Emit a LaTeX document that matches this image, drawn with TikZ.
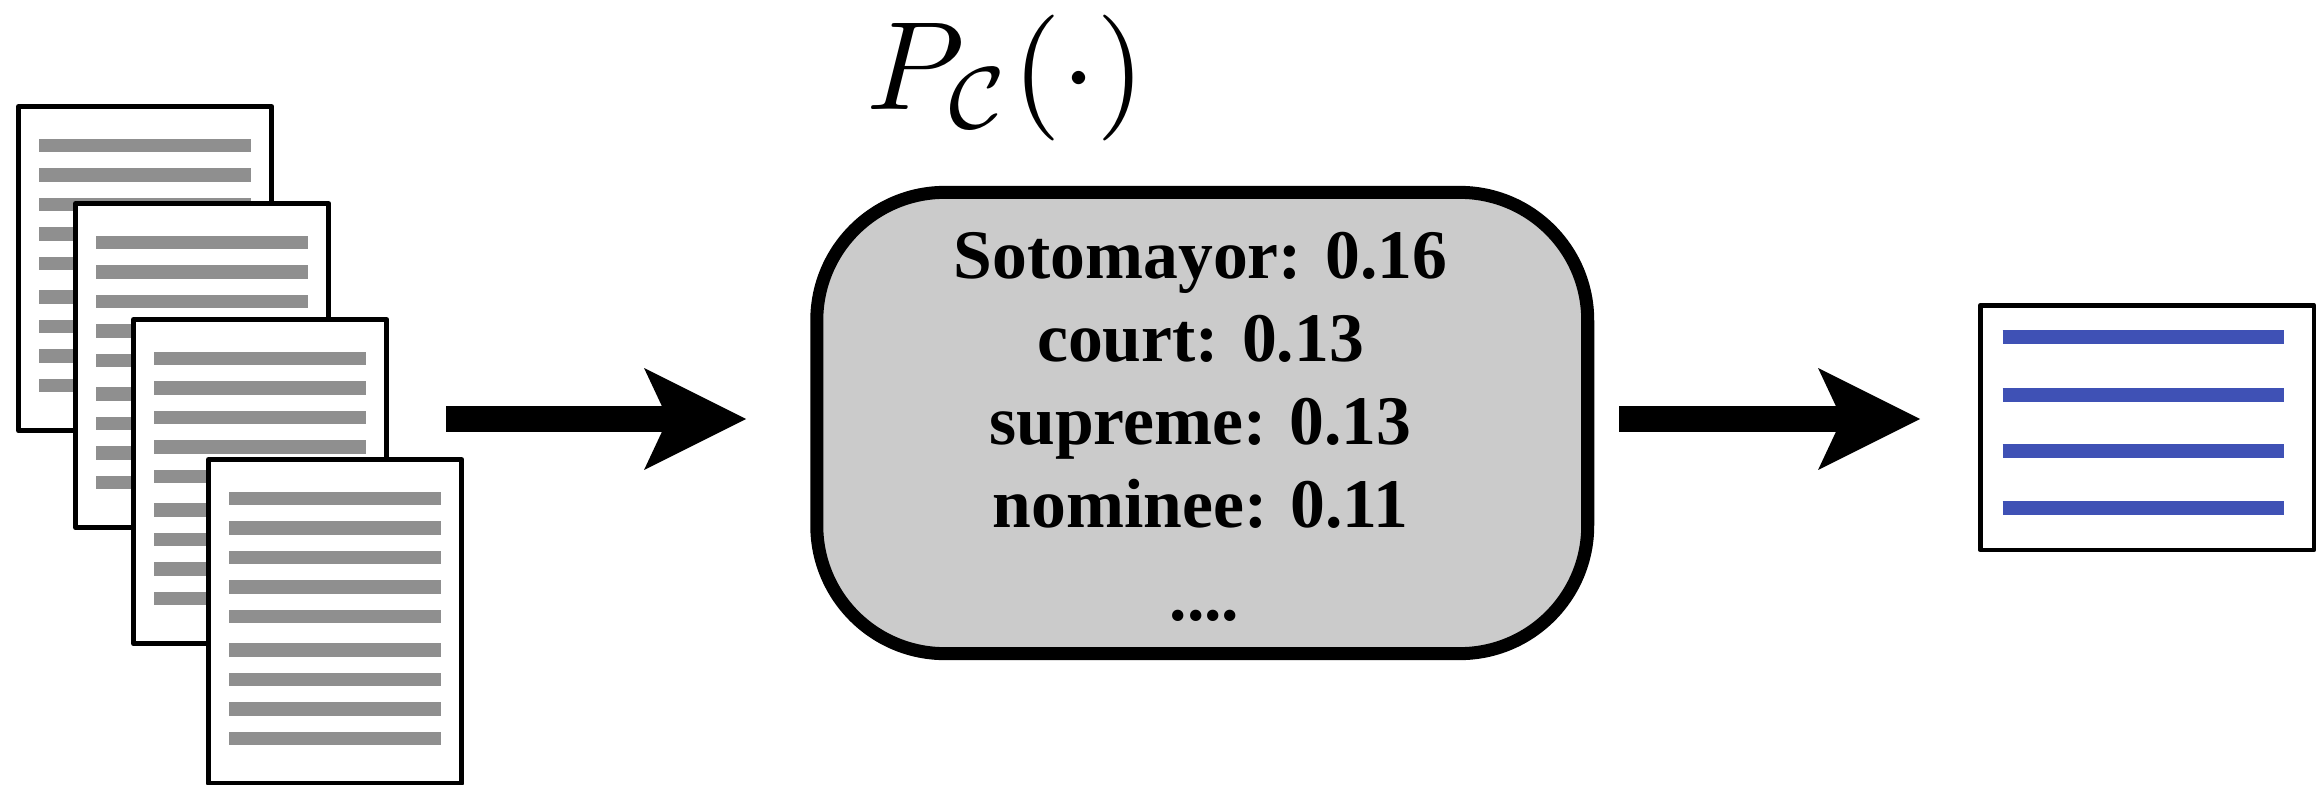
\RequirePackage{fix-cm}
\documentclass[tikz,border=0pt]{standalone}
\usepackage[no-math]{fontspec}
\newfontfamily\tnr{Liberation Serif}
\usetikzlibrary{arrows.meta}
\definecolor{linegray}{RGB}{143,143,143}
\definecolor{boxgray}{RGB}{203,203,203}
\definecolor{lineblue}{RGB}{63,81,181}
\begin{document}
\begin{tikzpicture}[x=0.01cm, y=-0.01cm,
  docframe/.style={draw=black, fill=white, line width=1.42pt, line join=round,
    minimum width=2.53cm, minimum height=3.24cm, inner sep=0pt, outer sep=0pt, anchor=north west},
  docline/.style={draw=linegray, line width=3.75pt},
  outline/.style={draw=lineblue, line width=3.8pt},
  outframe/.style={draw=black, fill=white, line width=1.28pt, line join=round,
    minimum width=3.335cm, minimum height=2.445cm, inner sep=0pt, outer sep=0pt, anchor=north west},
  bigarrow/.style={line width=7.4pt, -{Stealth[length=29pt, width=29pt, inset=6.8pt, line width=0pt]}},
  topicbox/.style={draw=black, fill=boxgray, line width=3.7pt, rounded corners=1.28cm,
    minimum width=7.705cm, minimum height=4.61cm, inner sep=0pt, outer sep=0pt},
  wordtext/.style={font=\tnr\bfseries\fontsize{19.8pt}{24pt}\selectfont, anchor=base, inner sep=0pt}
]
\useasboundingbox (0,0) rectangle (2318,785);

% stacked documents
\foreach \n/\X/\Y in {1/16/104, 2/73/201, 3/131/317, 4/206/457} {
  \node[docframe] (doc\n) at (\X+2.5, \Y+2.5) {};
  \foreach \ly in {41.5,71,100.5,130,159.5,193,222.5,252,281.5}
    \draw[docline] (\X+23, \Y+\ly) -- (\X+235, \Y+\ly);
}

% arrow 1
\coordinate (a1s) at (446,419);
\coordinate (a1e) at (746,419);
\draw[bigarrow] (a1s) -- (a1e);

% title
\node[anchor=base west, inner sep=0pt] (title) at (866,110) {\scalebox{3.58}{$P_{\mathcal{C}}(\cdot)$}};

% topic box
\node[topicbox] (topic) at (1202.25,423) {};
\node[wordtext] (w1) at (1200.5,278) {Sotomayor: 0.16};
\node[wordtext] (w2) at (1200.5,361) {court: 0.13};
\node[wordtext] (w3) at (1200.5,444) {supreme: 0.13};
\node[wordtext] (w4) at (1200.5,527) {nominee: 0.11};
\node[wordtext] (w5) at (1204.5,620) {....};

% arrow 2
\coordinate (a2s) at (1619,419);
\coordinate (a2e) at (1920,419);
\draw[bigarrow] (a2s) -- (a2e);

% output document
\node[outframe] (out) at (1980.25,305.25) {};
\foreach \ly in {337,395,451,508}
  \draw[outline] (2002.5,\ly) -- (2284,\ly);
\end{tikzpicture}
\end{document}
